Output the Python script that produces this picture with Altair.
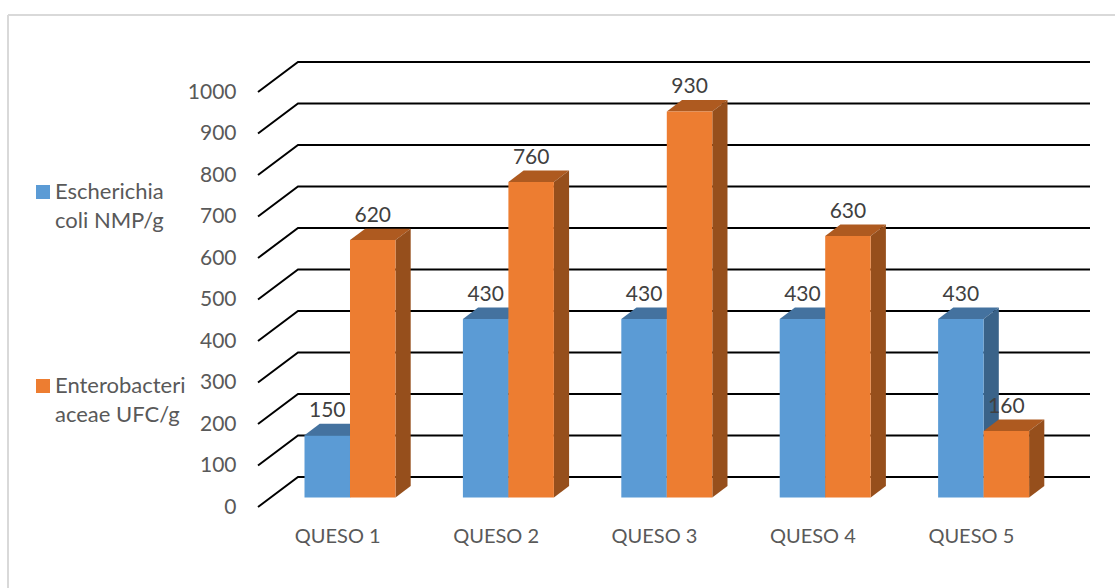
import altair as alt
import pandas as pd

categories = ["QUESO 1", "QUESO 2", "QUESO 3", "QUESO 4", "QUESO 5"]
ecoli = [150, 430, 430, 430, 430]
entero = [620, 760, 930, 630, 160]
series_names = ["Escherichia|coli NMP/g", "Enterobacteri|aceae UFC/g"]
front_colors = ["#5B9BD5", "#ED7D31"]
top_colors = ["#44729F", "#AE5A20"]
side_colors = ["#3A6389", "#964F1C"]
ticks = list(range(0, 1001, 100))

# Oblique projection: one unit of depth moves a mark right and up by these amounts.
DEPTH_X = 0.2525   # in category widths
DEPTH_Y = 72.3     # in value units
BAR_NEAR, BAR_FAR = 0.32, 0.70
BAR_WIDTH = 0.2872

x_scale = alt.Scale(domain=[0, 5 + DEPTH_X], nice=False, zero=False)
y_scale = alt.Scale(domain=[0, 1000 + DEPTH_Y], nice=False, zero=False)
x_axis = alt.Axis(
    values=[i + 0.5 for i in range(5)],
    labelExpr="%r[floor(datum.value)]" % categories,
    title=None, domain=False, ticks=False, grid=False,
    labelPadding=19, labelFontSize=20, labelColor="#595959",
    labelFont="Lato", labelFlush=False,
)
y_axis = alt.Axis(
    values=ticks, format="d", title=None, domain=False, ticks=False, grid=False,
    labelPadding=22, labelFontSize=21, labelColor="#595959",
    labelFont="Lato",
)
x_enc = lambda: alt.X("x:Q", scale=x_scale, axis=x_axis)
y_enc = lambda: alt.Y("y:Q", scale=y_scale, axis=y_axis, stack=None)

# Walls: a slanted side segment and a horizontal back line per tick.
grid_rows = []
for t in ticks:
    grid_rows += [
        {"tick": t, "x": 0, "y": t},
        {"tick": t, "x": DEPTH_X, "y": t + DEPTH_Y},
        {"tick": t, "x": 5 + DEPTH_X, "y": t + DEPTH_Y},
    ]
grid = (
    alt.Chart(pd.DataFrame(grid_rows))
    .mark_line(color="#000000", strokeWidth=2, interpolate="linear")
    .encode(x=x_enc(), y=y_enc(), detail="tick:N", order="x:Q")
)

# Faces of each 3-D column, computed from its value and slot.
near_dx, far_dx = BAR_NEAR * DEPTH_X, BAR_FAR * DEPTH_X
near_dy, far_dy = BAR_NEAR * DEPTH_Y, BAR_FAR * DEPTH_Y
gap = (1 - 2 * BAR_WIDTH) / 2

layers = [grid]
label_rows = []
for s, values in enumerate([ecoli, entero]):
    front, top, side = [], [], []
    for i, (cat, v) in enumerate(zip(categories, values)):
        left = i + gap + s * BAR_WIDTH + near_dx
        right = left + BAR_WIDTH
        shift = far_dx - near_dx
        lo, hi = v + near_dy, v + far_dy
        front.append({"cat": cat, "x": left, "x2": right, "y": lo, "y2": near_dy,
                      "series": series_names[s]})
        side += [
            {"cat": cat, "x": right, "y": lo, "y2": near_dy},
            {"cat": cat, "x": right + shift, "y": hi, "y2": far_dy},
        ]
        top += [
            {"cat": cat, "x": left, "y": lo, "y2": lo},
            {"cat": cat, "x": left + shift, "y": hi, "y2": lo},
            {"cat": cat, "x": right, "y": hi, "y2": lo},
            {"cat": cat, "x": right + shift, "y": hi, "y2": hi},
        ]
        label_rows.append({"x": (left + right) / 2, "y": hi, "v": v})
    for rows, color in [(top, top_colors[s]), (side, side_colors[s])]:
        layers.append(
            alt.Chart(pd.DataFrame(rows))
            .mark_area(color=color, orient="vertical", interpolate="linear")
            .encode(x=x_enc(), y=y_enc(), y2="y2:Q", detail="cat:N")
        )
    layers.append(
        alt.Chart(pd.DataFrame(front))
        .mark_rect()
        .encode(
            x=x_enc(), x2="x2:Q", y=y_enc(), y2="y2:Q",
            color=alt.Color(
                "series:N",
                scale=alt.Scale(domain=series_names, range=front_colors),
                legend=alt.Legend(
                    title=None, orient="none", legendX=-226, legendY=119,
                    symbolType="square", symbolSize=196, symbolStrokeWidth=0,
                    labelFont="Lato", labelFontSize=22, labelColor="#595959",
                    labelExpr="split(datum.label, '|')", labelLimit=300,
                    labelOffset=1, rowPadding=143, direction="vertical",
                ),
            ),
        )
    )

labels = (
    alt.Chart(pd.DataFrame(label_rows))
    .mark_text(font="Lato", fontSize=21, color="#404040", dy=-13)
    .encode(x=x_enc(), y=y_enc(), text="v:Q")
)
layers.append(labels)

# Thin grey frame of the chart area, drawn in the plot's own pixel space.
frame_color = "#D9D9D9"
frame_left = alt.Chart(pd.DataFrame({"a": [0]})).mark_rule(color=frame_color, strokeWidth=2).encode(
    x=alt.value(-250), y=alt.value(-47), y2=alt.value(526))
frame_top = alt.Chart(pd.DataFrame({"a": [0]})).mark_rule(color=frame_color, strokeWidth=2).encode(
    x=alt.value(-250), x2=alt.value(857), y=alt.value(-47))
layers += [frame_left, frame_top]

chart = (
    alt.layer(*layers)
    .resolve_scale(color="shared")
    .properties(
        width=832, height=445,
        padding={"left": 258, "top": 62, "right": 25, "bottom": 81},
        autosize=alt.AutoSizeParams(type="none"),
        background="#FFFFFF",
    )
    .configure(style={"guide-label": {"lineHeight": 29}})
    .configure_view(stroke=None)
)
chart.save("out.html", embed_options={"renderer": "svg", "actions": False})
